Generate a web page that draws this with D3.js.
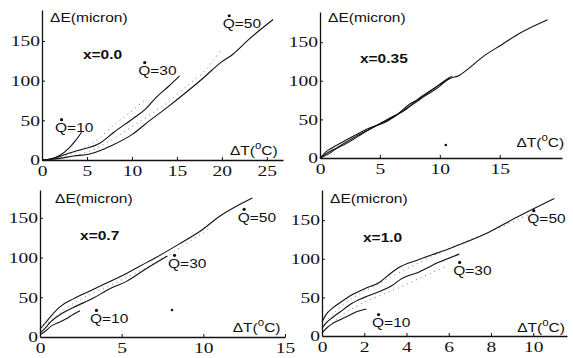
<!DOCTYPE html>
<html><head><meta charset="utf-8">
<script src="https://cdn.jsdelivr.net/npm/d3@7"></script>
<style>
body{margin:0;background:#fff;}
svg{display:block;}
</style></head>
<body>
<svg id="c" width="573" height="358"></svg>
<script>
// ---------- tick labels ----------
const yTicks = [0, 50, 100, 150];
const xTicksA = [0, 5, 10, 15, 20, 25];
const xTicksB = [0, 5, 10, 15];
const xTicksC = [0, 5, 10, 15];
const xTicksD = [0, 2, 4, 6, 8, 10];

// ---------- series: [ΔT (°C), ΔE (micron)] ----------
// x = 0.0
const a_q10 = [[0,0],[1,1.5],[2,6],[3,15],[3.7,24],[4.4,35]];
const a_q30 = [[0,0],[1,1],[2.8,8],[4,12],[6.4,21],[8,35],[10.1,52],[11.5,64],[12.7,79],[14,92],[15.3,106]];
const a_q50 = [[0,0],[2,2],[3.5,5],[5.3,7.5],[6.5,12],[7.5,17],[10,32],[12,50],[14,67],[16,85],[18,104],[20,124],[21.2,133],[23,152],[25.7,177]];
const a_dot1 = [[1,1],[3,7],[5,17],[6.5,29],[7.8,42],[9.8,60],[11.5,76]];
const a_dot2 = [[2,2],[5,10],[8,27],[10,42],[12,57],[13.9,72],[16.4,96],[17.9,110],[19.8,137]];
// x = 0.35
const b_l1 = [[0,0],[0.5,8],[1,13],[1.7,19],[3,30],[4,38],[5.4,46],[7,62],[8,72],[9,84],[10,95],[11,104],[11.5,106],[12.5,117],[13.5,130],[15.2,147],[16.5,160],[19,179]];
const b_l2 = [[0,0],[0.7,5],[1.5,14],[3,28],[5,44],[6.5,57],[7.5,70],[8.5,78],[10,93],[10.8,104]];
const b_l3 = [[0,0],[1,10],[2,17],[4,36],[6,53],[7.2,63],[8,74],[9.5,90],[10.5,101],[11,106]];
// x = 0.7
const c_q50 = [[0,10],[0.3,17],[0.7,27],[1.22,38],[2.04,48],[3.06,58],[4.08,68],[5.3,80],[6.1,89],[7.1,100],[8.6,118],[9.8,133],[11,152],[13,175]];
const c_q30 = [[0,5],[0.3,11],[0.7,20],[1.22,28],[2.04,37],[3.27,49],[4.3,61],[5.3,70],[6.5,86],[7.8,102]];
const c_q10 = [[0,3],[0.3,7],[0.7,14],[1.22,19],[1.7,24],[2,28],[2.45,33]];
const c_dot1 = [[0.5,18],[1.5,35],[3,53],[4.5,67],[6,82],[7.5,99],[9,118],[10.3,136]];
// x = 1.0
const d_q50 = [[0,18],[0.2,28],[0.5,36],[0.85,43],[1.4,53],[2,61],[2.75,70],[3.2,80],[3.6,88],[4.6,99],[6.2,115],[7.8,133],[9.1,152],[11,178]];
const d_q30 = [[0,10],[0.2,17],[0.5,24],[0.85,31],[1.4,42],[2,50],[2.75,58],[3.3,65],[3.7,73],[4.6,83],[5.5,95],[6.5,106]];
const d_q10 = [[0,4],[0.25,11],[0.5,16],[0.85,21],[1.3,27],[1.7,32],[2.1,35]];
const d_dot1 = [[0.3,22],[0.8,36],[1.5,50],[2.5,65],[3.5,80],[4.6,95],[6,113],[7.5,130],[8.8,145],[10,160]];
const d_dot2 = [[0.3,12],[1,28],[1.8,41],[2.8,53],[3.85,65],[4.8,77],[5.8,89]];

// ---------- panel layout ----------
const panels = [
  {name:"x=0.0", xTicks:xTicksA, xd:[0,26.8], xr:[42,283], yd:[0,189], yr:[160,10],
   solid:[a_q10,a_q30,a_q50], dotted:[a_dot1,a_dot2],
   labels:[{t:"Q=10",x:1.45,y:35},{t:"Q=30",x:10.7,y:107},{t:"Q=50",x:20.1,y:166}],
   title:[4.55,127], ey:[0.9,174], et:[20.9,6.3], spots:[]},
  {name:"x=0.35", xTicks:xTicksB, xd:[0,20.2], xr:[320,562], yd:[0,189], yr:[158,12],
   solid:[b_l1,b_l2,b_l3], dotted:[], labels:[],
   title:[3.33,123], ey:[0.67,176], et:[16.4,14.2], spots:[[10.5,16.8]]},
  {name:"x=0.7", xTicks:xTicksC, xd:[0,15], xr:[40,285], yd:[0,185], yr:[337,190],
   solid:[c_q50,c_q30,c_q10], dotted:[c_dot1],
   labels:[{t:"Q=50",x:12.1,y:145},{t:"Q=30",x:7.84,y:87},{t:"Q=10",x:3.06,y:17.7}],
   title:[2.45,122], ey:[0.92,169], et:[11.8,6.3], spots:[[8.08,34]]},
  {name:"x=1.0", xTicks:xTicksD, xd:[0,11.6], xr:[322,567], yd:[0,189], yr:[336,190],
   solid:[d_q50,d_q30,d_q10], dotted:[d_dot1,d_dot2],
   labels:[{t:"Q=50",x:9.72,y:146},{t:"Q=30",x:6.21,y:79},{t:"Q=10",x:2.37,y:11.6}],
   title:[1.94,122], ey:[0.38,172], et:[9.24,5.2], spots:[]}
];

const svg = d3.select("#c");
const serif = '"Liberation Serif", "Times New Roman", serif';
const sans = '"Liberation Sans", Arial, sans-serif';
const SX = 1.3;   // horizontal stretch of the scanned lettering
const LX = 1.15;

function label(g, px, py, str, bold) {
  const t = g.append("text")
    .attr("transform", `translate(${px},${py}) scale(${LX},1)`)
    .style("font-family", sans).style("font-size", "13.5px")
    .style("font-weight", bold ? "bold" : "normal").attr("fill", "#111");
  return t.text(str);
}

panels.forEach(p => {
  const x = d3.scaleLinear().domain(p.xd).range(p.xr);
  const y = d3.scaleLinear().domain(p.yd).range(p.yr);
  const g = svg.append("g");

  const ya = g.append("g").attr("transform",`translate(${p.xr[0]},0)`)
    .call(d3.axisLeft(y).tickValues(yTicks).tickSizeInner(-3).tickSizeOuter(0).tickPadding(1.5));
  const xa = g.append("g").attr("transform",`translate(0,${p.yr[0]})`)
    .call(d3.axisBottom(x).tickValues(p.xTicks).tickSizeInner(-3).tickSizeOuter(0).tickPadding(5));
  [ya,xa].forEach(a=>{
    a.selectAll(".tick text").attr("fill","#111")
      .style("font-family", serif).style("font-size","15px")
      .attr("transform", `scale(${SX},1)`);
    a.select(".domain").attr("stroke","#111").attr("stroke-width",1.3);
    a.selectAll(".tick line").attr("stroke","#111");
  });
  ya.selectAll(".tick").filter(d=>d===0).select("line").remove();
  xa.selectAll(".tick").filter(d=>d===0).select("line").remove();
  xa.selectAll(".tick text").attr("dy","0.72em");

  const line = d3.line().x(d=>x(d[0])).y(d=>y(d[1])).curve(d3.curveMonotoneX);
  p.dotted.forEach(s => g.append("path").attr("d",line(s)).attr("fill","none")
    .attr("stroke","#777").attr("stroke-width",1).attr("stroke-dasharray","1 4"));
  p.solid.forEach(s => g.append("path").attr("d",line(s)).attr("fill","none")
    .attr("stroke","#111").attr("stroke-width",1.1));

  p.spots.forEach(s => g.append("circle").attr("cx",x(s[0])).attr("cy",y(s[1])).attr("r",1.3).attr("fill","#111"));

  label(g, x(p.ey[0]), y(p.ey[1]), "ΔE(micron)", false);
  label(g, x(p.title[0]), y(p.title[1]), p.name, true);
  const t = label(g, x(p.et[0]), y(p.et[1]), "", false);
  t.append("tspan").text("ΔT(");
  t.append("tspan").style("font-size","10px").attr("dy",-6).text("o");
  t.append("tspan").attr("dy",6).text("C)");

  p.labels.forEach(l => {
    label(g, x(l.x), y(l.y), l.t, false);
    g.append("circle").attr("cx",x(l.x)+6.5).attr("cy",y(l.y)-12.5).attr("r",1.6).attr("fill","#111");
  });
});
</script>
</body></html>
